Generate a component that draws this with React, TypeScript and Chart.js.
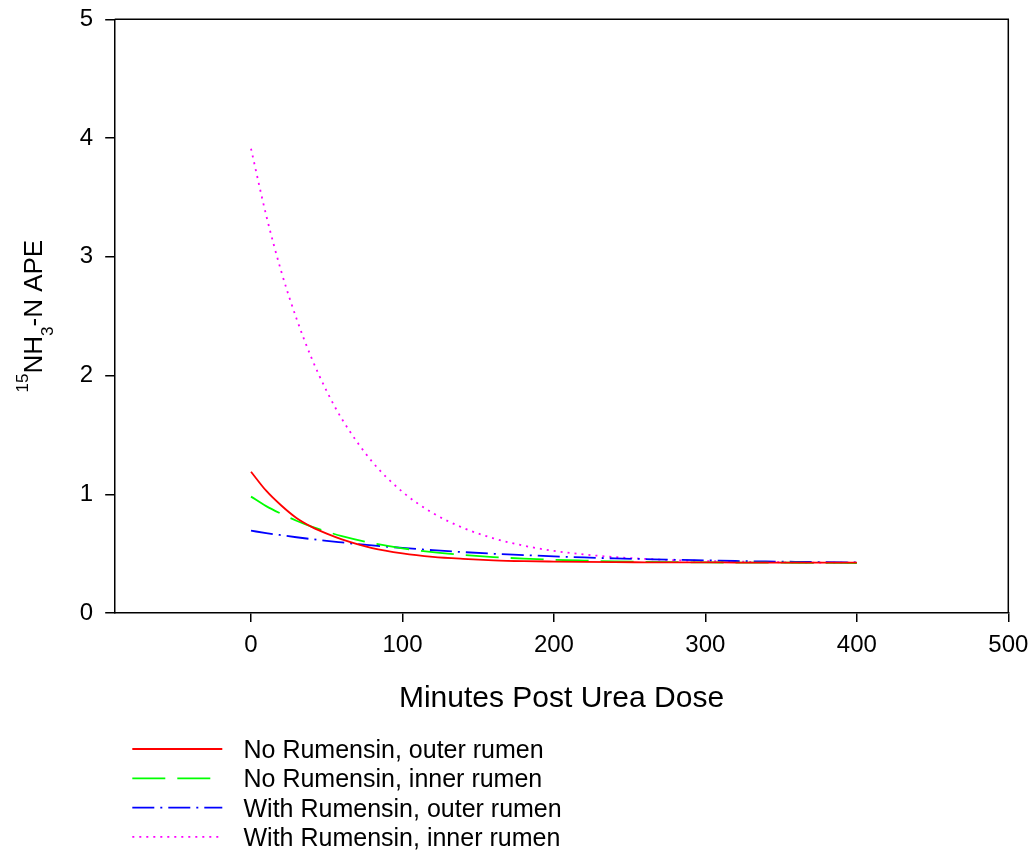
import React, { useEffect, useRef } from "react";
import { Chart, registerables } from "chart.js";

Chart.register(...registerables);

// ---- data ----
const MINUTES = [0, 10, 20, 30, 40, 50, 60, 80, 100, 120, 140, 160, 180, 200, 220, 240, 260, 280, 300, 320, 340, 360, 380, 400];
const NO_RUM_OUTER = [1.19, 1.03, 0.905, 0.8, 0.725, 0.668, 0.62, 0.547, 0.502, 0.473, 0.456, 0.444, 0.437, 0.433, 0.43, 0.428, 0.427, 0.426, 0.426, 0.425, 0.425, 0.425, 0.425, 0.425];
const NO_RUM_INNER = [0.98, 0.9, 0.835, 0.777, 0.727, 0.685, 0.648, 0.589, 0.545, 0.512, 0.489, 0.471, 0.458, 0.448, 0.441, 0.435, 0.431, 0.428, 0.426, 0.425, 0.424, 0.423, 0.422, 0.421];
const WITH_RUM_OUTER = [0.693, 0.673, 0.655, 0.638, 0.622, 0.607, 0.594, 0.569, 0.548, 0.529, 0.513, 0.499, 0.488, 0.477, 0.468, 0.46, 0.454, 0.448, 0.443, 0.438, 0.434, 0.431, 0.428, 0.426];
const WITH_RUM_INNER = [3.91, 3.35, 2.875, 2.48, 2.146, 1.868, 1.634, 1.274, 1.02, 0.842, 0.717, 0.629, 0.567, 0.523, 0.493, 0.471, 0.456, 0.445, 0.438, 0.433, 0.429, 0.426, 0.424, 0.423];

const SERIES_LABELS = [
  "No Rumensin, outer rumen",
  "No Rumensin, inner rumen",
  "With Rumensin, outer rumen",
  "With Rumensin, inner rumen",
];
const X_TICKS = [0, 100, 200, 300, 400, 500];
const Y_TICKS = [0, 1, 2, 3, 4, 5];
const X_MIN = -90;
const X_MAX = 500;
const Y_MIN = 0;
const Y_MAX = 5;
const X_TITLE = "Minutes Post Urea Dose";
const Y_TITLE_PARTS = [
  { text: "15", kind: "sup" },
  { text: "NH", kind: "main" },
  { text: "3", kind: "sub" },
  { text: "-N APE", kind: "main" },
];

const FONT = '"Liberation Sans", Arial, Helvetica, sans-serif';
const W = 1034;
const H = 850;

export default function App() {
  const ref = useRef<HTMLCanvasElement | null>(null);

  useEffect(() => {
    const canvas = ref.current;
    if (!canvas) return;
    const allSeries = [NO_RUM_OUTER, NO_RUM_INNER, WITH_RUM_OUTER, WITH_RUM_INNER];
    const styles = [
      { color: "#ff0000", dash: [] as number[], width: 1.8 },
      { color: "#00ff00", dash: [33, 12], width: 1.8 },
      { color: "#0000ff", dash: [22, 6, 2, 6], width: 1.8 },
      { color: "#ff00ff", dash: [2, 5], width: 1.8 },
    ];

    const decor = {
      id: "decor",
      afterDraw(chart: any) {
        const { ctx, chartArea: a } = chart;
        ctx.save();
        // top and right frame lines
        ctx.strokeStyle = "#000";
        ctx.lineWidth = 1.5;
        ctx.beginPath();
        ctx.moveTo(a.left, a.top);
        ctx.lineTo(a.right, a.top);
        ctx.lineTo(a.right, a.bottom);
        ctx.stroke();

        // x axis title
        ctx.fillStyle = "#000";
        ctx.font = `30px ${FONT}`;
        ctx.textAlign = "center";
        ctx.textBaseline = "alphabetic";
        ctx.fillText(X_TITLE, (a.left + a.right) / 2, a.bottom + 93.7);

        // y axis title (rotated, with super/subscript)
        const mainSize = 26;
        const smallSize = 17;
        const widths = Y_TITLE_PARTS.map((p) => {
          ctx.font = `${p.kind === "main" ? mainSize : smallSize}px ${FONT}`;
          return ctx.measureText(p.text).width;
        });
        const total = widths.reduce((s, w) => s + w, 0);
        ctx.translate(41.7, (a.top + a.bottom) / 2);
        ctx.rotate(-Math.PI / 2);
        ctx.textAlign = "left";
        let cx = -total / 2;
        Y_TITLE_PARTS.forEach((p, i) => {
          ctx.font = `${p.kind === "main" ? mainSize : smallSize}px ${FONT}`;
          const dy = p.kind === "sup" ? -13.4 : p.kind === "sub" ? 11.6 : 0;
          ctx.fillText(p.text, cx, dy);
          cx += widths[i];
        });
        ctx.setTransform(1, 0, 0, 1, 0, 0);

        // legend
        ctx.font = `25px ${FONT}`;
        ctx.textAlign = "left";
        ctx.textBaseline = "alphabetic";
        SERIES_LABELS.forEach((label, i) => {
          const base = 758 + i * 29.3;
          const st = styles[i];
          ctx.strokeStyle = st.color;
          ctx.lineWidth = st.width;
          ctx.setLineDash(st.dash);
          ctx.beginPath();
          ctx.moveTo(132.3, base - 9);
          ctx.lineTo(222.3, base - 9);
          ctx.stroke();
          ctx.setLineDash([]);
          ctx.fillStyle = "#000";
          ctx.fillText(label, 243.5, base);
        });
        ctx.restore();
      },
    };

    const chart = new Chart(canvas, {
      type: "line",
      data: {
        datasets: allSeries.map((ys, i) => ({
          label: SERIES_LABELS[i],
          data: MINUTES.map((x, j) => ({ x, y: ys[j] })),
          borderColor: styles[i].color,
          backgroundColor: styles[i].color,
          borderWidth: styles[i].width,
          borderDash: styles[i].dash,
          borderCapStyle: "butt",
          pointRadius: 0,
          fill: false,
          cubicInterpolationMode: "monotone",
        })),
      },
      options: {
        animation: false,
        responsive: false,
        maintainAspectRatio: false,
        layout: { padding: { left: 0, top: 19.25, right: 25.7, bottom: 0 } },
        plugins: { legend: { display: false }, tooltip: { enabled: false }, title: { display: false } },
        scales: {
          x: {
            type: "linear",
            min: X_MIN,
            max: X_MAX,
            afterBuildTicks: (s: any) => {
              s.ticks = X_TICKS.map((v) => ({ value: v }));
            },
            afterFit: (s: any) => {
              s.height = 237;
              s.paddingLeft = 0;
              s.paddingRight = 0;
            },
            grid: { drawOnChartArea: false, drawTicks: true, tickLength: 9, color: "#000", lineWidth: 1.5 },
            border: { display: true, color: "#000", width: 1.5 },
            ticks: { color: "#000", font: { family: FONT, size: 24 }, padding: 9, maxRotation: 0, autoSkip: false },
          },
          y: {
            type: "linear",
            min: Y_MIN,
            max: Y_MAX,
            afterBuildTicks: (s: any) => {
              s.ticks = Y_TICKS.map((v) => ({ value: v }));
            },
            afterFit: (s: any) => {
              s.width = 114.7;
              s.paddingTop = 0;
              s.paddingBottom = 0;
            },
            grid: { drawOnChartArea: false, drawTicks: true, tickLength: 9.5, color: "#000", lineWidth: 1.5 },
            border: { display: true, color: "#000", width: 1.5 },
            ticks: { color: "#000", font: { family: FONT, size: 24 }, padding: 12, autoSkip: false },
          },
        },
      },
      plugins: [decor],
    } as any);

    return () => chart.destroy();
  }, []);

  return (
    <div style={{ position: "absolute", left: 0, top: 0, width: W, height: H }}>
      <canvas ref={ref} width={W} height={H} style={{ display: "block", width: W, height: H }} />
    </div>
  );
}
